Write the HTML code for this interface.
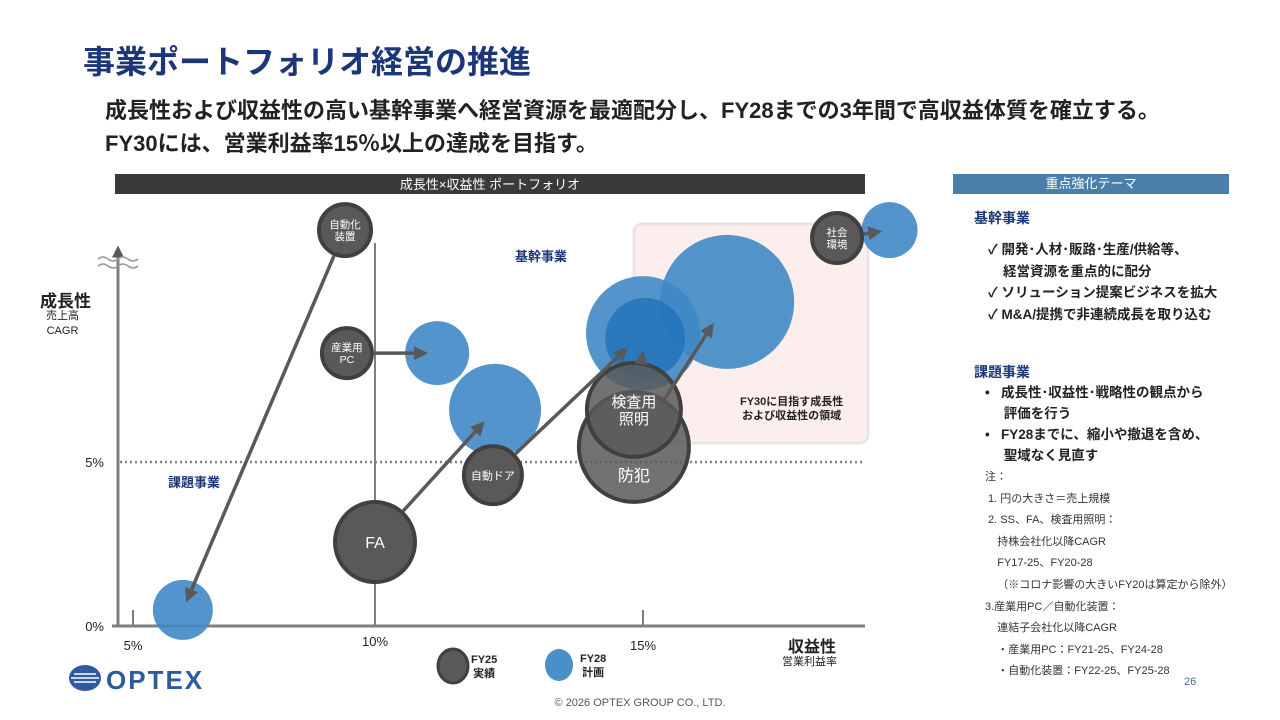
<!DOCTYPE html>
<html><head><meta charset="utf-8">
<style>
body{margin:0;width:1280px;height:720px;position:relative;background:#fff;font-family:"Liberation Sans","Noto Sans CJK JP",sans-serif;overflow:hidden}
.a{position:absolute;white-space:nowrap}
.b{font-weight:bold}
</style></head><body>
<div class="a b" style="left:83px;top:37px;font-size:32px;color:#1d3679">事業ポートフォリオ経営の推進</div>
<div class="a b" style="left:105px;top:93px;font-size:22px;color:#222">成長性および収益性の高い基幹事業へ経営資源を最適配分し、FY28までの3年間で高収益体質を確立する。</div>
<div class="a b" style="left:105px;top:126px;font-size:22px;color:#222">FY30には、営業利益率15％以上の達成を目指す。</div>

<svg class="a" style="left:0;top:0" width="1280" height="720">
<defs><marker id="ah" markerWidth="4" markerHeight="4" refX="2.5" refY="2" orient="auto" markerUnits="strokeWidth"><path d="M0,0L4,2L0,4z" fill="#595959"/></marker></defs>
<g id="chart"></g>
</svg>

<div class="a b" style="left:40px;top:287px;font-size:17px;color:#222">成長性</div>
<div class="a" style="left:46px;top:309px;font-size:11px;color:#222;text-align:center;line-height:15px">売上高<br>CAGR</div>
<div class="a b" style="left:788px;top:633px;font-size:16px;color:#222">収益性</div>
<div class="a" style="left:782px;top:653px;font-size:11px;color:#222">営業利益率</div>
<div class="a b" style="left:515px;top:246px;font-size:13px;color:#1d3679">基幹事業</div>
<div class="a b" style="left:168px;top:472px;font-size:13px;color:#1d3679">課題事業</div>
<div class="a b" style="left:740px;top:395px;font-size:11px;color:#222;text-align:center;line-height:14px">FY30に目指す成長性<br>および収益性の領域</div>

<div class="a b" style="left:471px;top:653px;font-size:11px;color:#222;line-height:14px;text-align:center">FY25<br>実績</div>
<div class="a b" style="left:580px;top:652px;font-size:11px;color:#222;line-height:14px;text-align:center">FY28<br>計画</div>

<div class="a" style="left:68px;top:664px;width:142px;height:28px">
<svg width="142" height="28"><ellipse cx="17" cy="14" rx="16" ry="13" fill="#2e5a9e"/><path d="M3,14H31M6,10H28M6,18H28" stroke="#fff" stroke-width="1.5"/><text x="38" y="25" font-size="26" font-weight="bold" fill="#2e5a9e" font-family="Liberation Sans" letter-spacing="2">OPTEX</text></svg></div>
<div class="a" style="left:0;width:1280px;text-align:center;top:697px;font-size:11px;color:#555">© 2026 OPTEX GROUP CO., LTD.</div>
<div class="a" style="left:1184px;top:676px;font-size:11px;color:#3d6ea6">26</div>

<div class="a" style="left:953px;top:174px;width:276px;height:20px;background:#4a7fac;color:#fff;font-size:13px;text-align:center;line-height:20px">重点強化テーマ</div>
<div class="a b" style="left:974px;top:208px;font-size:14px;color:#1d3679">基幹事業</div>
<div class="a b" style="left:988px;top:239px;font-size:13.5px;color:#222;line-height:21.5px">✓ 開発･人材･販路･生産/供給等、<br>&nbsp;&nbsp;&nbsp;&nbsp;経営資源を重点的に配分<br>✓ ソリューション提案ビジネスを拡大<br>✓ M&amp;A/提携で非連続成長を取り込む</div>
<div class="a b" style="left:974px;top:362px;font-size:14px;color:#1d3679">課題事業</div>
<div class="a b" style="left:985px;top:382px;font-size:13.5px;color:#222;line-height:21px">•&nbsp;&nbsp;&nbsp;成長性･収益性･戦略性の観点から<br>&nbsp;&nbsp;&nbsp;&nbsp;&nbsp;評価を行う<br>•&nbsp;&nbsp;&nbsp;FY28までに、縮小や撤退を含め、<br>&nbsp;&nbsp;&nbsp;&nbsp;&nbsp;聖域なく見直す</div>
<div class="a" style="left:985px;top:467px;font-size:11px;color:#333;line-height:21.6px">注：<br>&nbsp;1. 円の大きさ＝売上規模<br>&nbsp;2. SS、FA、検査用照明：<br>&nbsp;&nbsp;&nbsp;&nbsp;持株会社化以降CAGR<br>&nbsp;&nbsp;&nbsp;&nbsp;FY17-25、FY20-28<br>&nbsp;&nbsp;&nbsp;&nbsp;（※コロナ影響の大きいFY20は算定から除外）<br>3.産業用PC／自動化装置：<br>&nbsp;&nbsp;&nbsp;&nbsp;連結子会社化以降CAGR<br>&nbsp;&nbsp;&nbsp;&nbsp;・産業用PC：FY21-25、FY24-28<br>&nbsp;&nbsp;&nbsp;&nbsp;・自動化装置：FY22-25、FY25-28</div>

<script>
const segments=['自動化装置','産業用PC','FA','自動ドア','防犯','検査用照明','社会環境'];
const labels=['自動化\n装置','産業用\nPC','FA','自動ドア','防犯','検査用\n照明','社会\n環境'];
const fy25Margin=[9.38,9.42,10.0,12.2,14.83,14.83,18.62];
const fy25Growth=[12.07,8.32,2.56,4.6,5.46,6.59,11.83];
const fy25Size=[28,27,42,31,57,49,27];
const fy28Margin=[6.03,11.16,12.24,15.0,16.57,15.04,19.6];
const fy28Growth=[0.49,8.32,6.59,8.93,9.88,8.78,12.07];
const fy28Size=[30,32,46,57,67,40,28];
const xTicks=[5,10,15];
const yTicks=[0,5];

function xs(v){return v>=10?375+(v-10)*53.6:375-(10-v)*48.4;}
function ys(v){return 626-v*32.8;}
const NS='http://www.w3.org/2000/svg';
const g=document.getElementById('chart');
function mk(t,at){const e=document.createElementNS(NS,t);for(const k in at)e.setAttribute(k,at[k]);g.appendChild(e);return e;}

let e;
e=mk('rect',{x:115,y:174,width:750,height:20,fill:'#3a3a3a'});


e=mk('text',{x:490,y:189,'text-anchor':'middle','font-size':13,fill:'#fff'});e.textContent='成長性×収益性 ポートフォリオ';


e=mk('rect',{x:634,y:224,width:234,height:219,rx:8,fill:'#fdeeee',stroke:'#e6e6e6','stroke-width':3});


e=mk('line',{x1:118,y1:626,x2:118,y2:250,stroke:'#7f7f7f','stroke-width':3,'marker-end':'url(#ah)'});


e=mk('path',{d:'M98,259q5,-4 10,0t10,0t10,0t10,0M98,266q5,-4 10,0t10,0t10,0t10,0',fill:'none',stroke:'#999','stroke-width':1.5});


e=mk('line',{x1:112,y1:626,x2:865,y2:626,stroke:'#7f7f7f','stroke-width':3});


e=mk('line',{x1:375,y1:243,x2:375,y2:626,stroke:'#7f7f7f','stroke-width':2});


e=mk('line',{x1:120,y1:ys(5),x2:865,y2:ys(5),stroke:'#808080','stroke-width':2.5,'stroke-dasharray':'2 3'});


xTicks.forEach((t,i)=>{
  const x=i==0?133:xs(t);
  if(t!==10){e=mk('line',{x1:x,y1:610,x2:x,y2:626,stroke:'#7f7f7f','stroke-width':2});
  
  }
  e=mk('text',{x:x,y:i==1?646:650,'text-anchor':'middle','font-size':13,fill:'#222'});e.textContent=t+'%';
  
  
});
yTicks.forEach(t=>{
  e=mk('text',{x:104,y:ys(t)+5,'text-anchor':'end','font-size':13,fill:'#222'});e.textContent=t+'%';
  
  
});
segments.forEach((s,i)=>{
  e=mk('circle',{cx:xs(fy28Margin[i]),cy:ys(fy28Growth[i]),r:fy28Size[i],fill:i==5?'#1f6fb8':'#3f88c5','fill-opacity':i==5?0.75:0.9});
  
  
});
segments.forEach((s,i)=>{
  const cx=xs(fy25Margin[i]),cy=ys(fy25Growth[i]),r=fy25Size[i];
  e=mk('circle',{cx:cx,cy:cy,r:r-2,fill:'#595959','fill-opacity':i==5||i==4?0.85:1,stroke:'#404040','stroke-width':4});
  
  
  const ls=labels[i].split('\n');const big=r>40;const fs=big?(ls.length>1?15:16):(r>29&&ls.length==1?11:10.5);
  ls.forEach((l,j)=>{
    e=mk('text',{x:cx,y:cy+fs*0.38+(j-(ls.length-1)/2)*fs*1.15+(i==4?28:0),'text-anchor':'middle','font-size':fs,fill:'#fff'});e.textContent=l;
    
    
  });
});
segments.forEach((s,i)=>{
  const x1=xs(fy25Margin[i]),y1=ys(fy25Growth[i]),x2=xs(fy28Margin[i]),y2=ys(fy28Growth[i]);
  const dx=x2-x1,dy=y2-y1,d=Math.hypot(dx,dy),ux=dx/d,uy=dy/d;
  const sx=x1+ux*fy25Size[i],sy=y1+uy*fy25Size[i];
  const ex=x2-ux*fy28Size[i]*0.45,ey=y2-uy*fy28Size[i]*0.45;
  e=mk('line',{x1:sx,y1:sy,x2:ex,y2:ey,stroke:'#595959','stroke-width':3.5,'marker-end':'url(#ah)'});
  
  
});
e=mk('ellipse',{cx:453,cy:666,rx:15,ry:17,fill:'#595959',stroke:'#404040','stroke-width':3});


e=mk('ellipse',{cx:559,cy:665,rx:14,ry:16,fill:'#4a90c8'});


</script>
</body></html>
